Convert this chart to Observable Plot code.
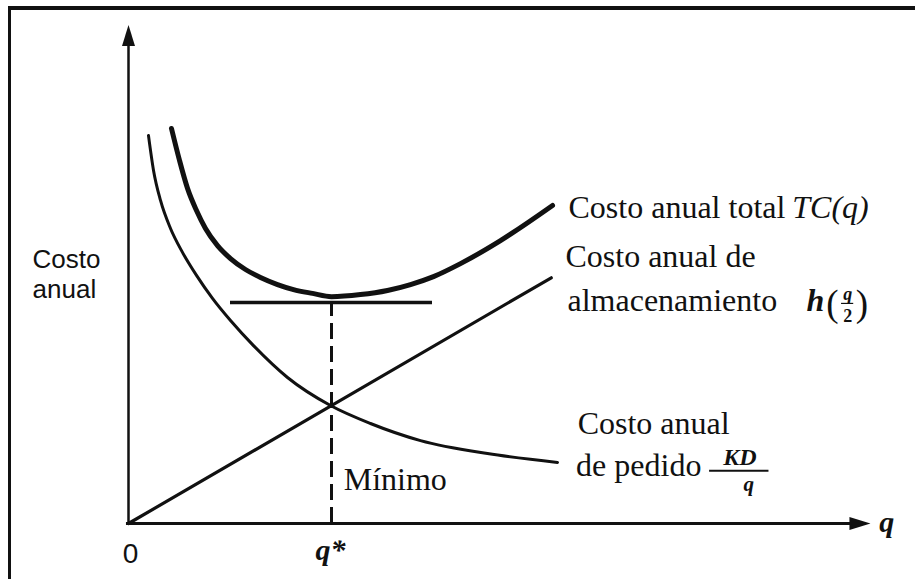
<!DOCTYPE html>
<html>
<head>
<meta charset="utf-8">
<script src="https://cdn.jsdelivr.net/npm/d3@7"></script>
<script src="https://cdn.jsdelivr.net/npm/@observablehq/plot@0.6"></script>
<style>
  html, body { margin: 0; padding: 0; background: #fff; }
  #wrap { position: relative; width: 915px; height: 579px; overflow: hidden; background: #fff; }
  #frame { position: absolute; left: 8px; top: 6px; right: -10px; bottom: -10px;
           border-top: 4px solid #111; border-left: 3px solid #111; pointer-events: none; }
  #wrap svg { position: absolute; left: 0; top: 0; }
</style>
</head>
<body>
<div id="wrap"><div id="frame"></div></div>
<script>
// ---- Data (q in units where q* = 4, cost in arbitrary units) ----
const orderQ    = [0.394, 0.493, 0.631, 0.828, 1.064, 1.340, 1.655, 2.010, 2.463, 3.133, 3.980, 4.768, 5.754, 7.074, 8.453];
const orderCost = [131.5, 119.7, 109.5, 100.0, 91.9, 84.1, 76.3, 68.8, 60.3, 49.5, 40.0, 33.9, 28.1, 23.7, 20.7];

const totalQ    = [0.847, 1.005, 1.163, 1.340, 1.517, 1.754, 2.010, 2.305, 2.601, 2.936, 3.251, 3.626, 4.000, 4.571, 5.103, 5.557, 6.010, 6.542, 7.330, 8.355];
const totalCost = [133.9, 123.1, 113.6, 106.1, 100.0, 94.2, 89.8, 86.1, 83.4, 81.0, 79.3, 78.0, 76.9, 77.6, 79.0, 81.0, 83.7, 88.1, 95.9, 107.8];

const holdQ    = [0, 8.33];
const holdCost = [0, 83.3];

const qStar = 4;
const minLevel = 74.9;
const minLineQ = [2.01, 5.99];

const yAxisTop = 169;   // arrow tip of cost axis
const xAxisEnd = 14.62; // arrow tip of q axis

// text labels
const serifLabels = ["Costo anual total", "Costo anual de", "almacenamiento", "Costo anual", "de pedido", "Mínimo"];
const serifQ      = [8.67, 8.61, 8.65, 8.85, 8.82, 4.24];
const serifC      = [107.1, 90.3, 75.6, 33.9, 19.7, 14.9];

const sideLabels = ["Costo", "anual"];
const sideQ = [-1.89, -1.89];
const sideC = [89.5, 79.3];

// ---- build tables ----
const order = orderQ.map((q, i) => ({q, c: orderCost[i]}));
const total = totalQ.map((q, i) => ({q, c: totalCost[i]}));
const hold  = holdQ.map((q, i) => ({q, c: holdCost[i]}));
const serif = serifLabels.map((t, i) => ({t, q: serifQ[i], c: serifC[i]}));
const side  = sideLabels.map((t, i) => ({t, q: sideQ[i], c: sideC[i]}));

const ink = "#111";
const SERIF = "Liberation Serif, Times New Roman, serif";
const SANS = "Liberation Sans, Arial, sans-serif";

// long filled arrowhead, tip at origin, pointing up
const arrowHead = { draw(ctx) { ctx.moveTo(0, 0); ctx.lineTo(-6.5, 21); ctx.lineTo(6.5, 21); ctx.closePath(); } };

const W = 915, H = 579;
const chart = Plot.plot({
  width: W, height: H,
  marginLeft: 128, marginRight: W - (128 + 15 * 50.75),
  marginTop: 523 - 170 * 2.95, marginBottom: H - 523,
  x: {domain: [0, 15], axis: null},
  y: {domain: [0, 170], axis: null},
  style: {background: "transparent", overflow: "visible", color: ink},
  marks: [
    // axes
    Plot.ruleX([0], {y1: -0.5, y2: yAxisTop - 6, stroke: ink, strokeWidth: 2.5}),
    Plot.ruleY([0], {x1: -0.04, x2: xAxisEnd - 0.3, stroke: ink, strokeWidth: 3.2}),
    Plot.dot([{q: 0, c: yAxisTop}], {x: "q", y: "c", symbol: arrowHead, r: 5, fill: ink, stroke: "none"}),
    Plot.dot([{q: xAxisEnd, c: 0}], {x: "q", y: "c", symbol: arrowHead, r: 5, fill: ink, stroke: "none", rotate: 90}),
    // minimum level and dashed drop line
    Plot.ruleY([minLevel], {x1: minLineQ[0], x2: minLineQ[1], stroke: ink, strokeWidth: 3.5}),
    Plot.ruleX([qStar], {y1: 0, y2: minLevel, stroke: ink, strokeWidth: 3, strokeDasharray: "16,7"}),
    // cost curves
    Plot.line(hold, {x: "q", y: "c", stroke: ink, strokeWidth: 3.2}),
    Plot.line(order, {x: "q", y: "c", curve: "monotone-x", stroke: ink, strokeWidth: 3}),
    Plot.line(total, {x: "q", y: "c", curve: "monotone-x", stroke: ink, strokeWidth: 5}),
    // labels
    Plot.text(serif, {x: "q", y: "c", text: "t", textAnchor: "start", fontSize: 32, fontFamily: SERIF, fill: ink}),
    Plot.text(side, {x: "q", y: "c", text: "t", textAnchor: "start", fontSize: 26, fontFamily: SANS, fill: ink}),
    Plot.text([{t: "TC(q)", q: 13.08, c: 107.1}], {x: "q", y: "c", text: "t", textAnchor: "start", fontSize: 32, fontStyle: "italic", fontFamily: SERIF, fill: ink}),
    // h(q/2)
    Plot.text([{t: "h", q: 13.36, c: 75.6}], {x: "q", y: "c", text: "t", textAnchor: "start", fontSize: 32, fontStyle: "italic", fontWeight: "bold", fontFamily: SERIF, fill: ink}),
    Plot.text([{t: "(", q: 13.75, c: 74.2}, {t: ")", q: 14.33, c: 74.2}], {x: "q", y: "c", text: "t", textAnchor: "start", fontSize: 37, fontFamily: SERIF, fill: ink}),
    Plot.text([{t: "q", q: 14.17, c: 77.6}], {x: "q", y: "c", text: "t", textAnchor: "middle", fontSize: 18, fontStyle: "italic", fontWeight: "bold", fontFamily: SERIF, fill: ink}),
    Plot.ruleY([74.6], {x1: 14.05, x2: 14.29, stroke: ink, strokeWidth: 1.2}),
    Plot.text([{t: "2", q: 14.17, c: 70.2}], {x: "q", y: "c", text: "t", textAnchor: "middle", fontSize: 18, fontWeight: "bold", fontFamily: SERIF, fill: ink}),
    // KD/q
    Plot.text([{t: "KD", q: 12.05, c: 22.4}], {x: "q", y: "c", text: "t", textAnchor: "middle", fontSize: 24, fontStyle: "italic", fontWeight: "bold", fontFamily: SERIF, fill: ink}),
    Plot.text([{t: "q", q: 12.22, c: 13.4}], {x: "q", y: "c", text: "t", textAnchor: "middle", fontSize: 21, fontStyle: "italic", fontWeight: "bold", fontFamily: SERIF, fill: ink}),
    Plot.ruleY([17.9], {x1: 11.45, x2: 12.62, stroke: ink, strokeWidth: 2}),
    // axis labels
    Plot.text([{t: "0", q: 0.04, c: -10.5}], {x: "q", y: "c", text: "t", textAnchor: "middle", fontSize: 28, fontFamily: SANS, fill: ink}),
    Plot.text([{t: "q*", q: 3.98, c: -9.2}], {x: "q", y: "c", text: "t", textAnchor: "middle", fontSize: 30, fontStyle: "italic", fontWeight: "bold", fontFamily: SERIF, fill: ink}),
    Plot.text([{t: "q", q: 14.94, c: 0.3}], {x: "q", y: "c", text: "t", textAnchor: "middle", fontSize: 30, fontStyle: "italic", fontWeight: "bold", fontFamily: SERIF, fill: ink})
  ]
});
document.getElementById("wrap").insertBefore(chart, document.getElementById("frame"));
</script>
</body>
</html>
